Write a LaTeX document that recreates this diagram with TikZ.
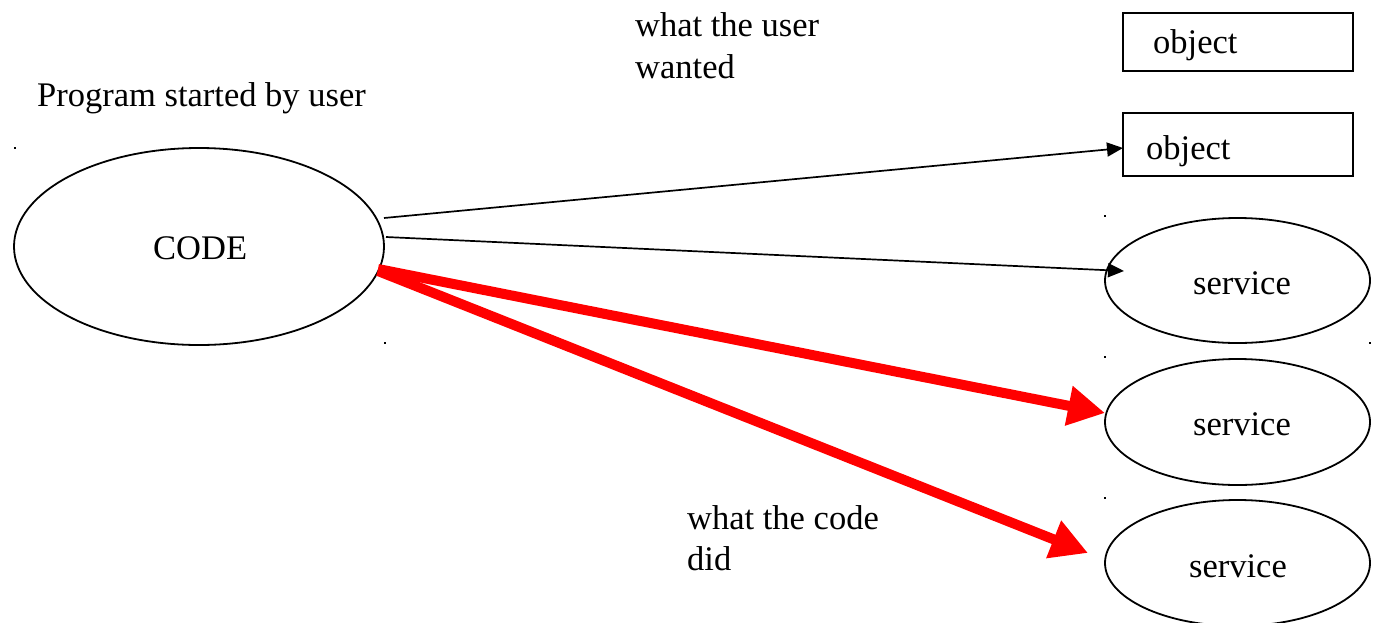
\documentclass[tikz,border=0pt]{standalone}
\usepackage{fontspec}
\setmainfont{Liberation Serif}
\usetikzlibrary{arrows.meta,shapes.geometric}
\begin{document}
\begin{tikzpicture}[x=1pt,y=-1pt,
  txt/.style={inner sep=0pt,anchor=base west,font=\fontsize{34.5}{42}\selectfont},
  oval/.style={draw,ellipse,line width=1.8pt,inner sep=0pt},
  objbox/.style={draw,line width=1.8pt,inner sep=0pt,minimum width=230pt},
  blackarrow/.style={draw,line width=1.7pt,-{Triangle[length=16pt,width=14pt]}},
  redarrow/.style={draw=red,line width=10pt,-{Triangle[length=37pt,width=38pt]}},
  dot/.style={fill=black,minimum width=2pt,minimum height=1.2pt,inner sep=0pt}]
\useasboundingbox (0,0) rectangle (1378,622);
% nodes
\node[oval,minimum width=370pt,minimum height=197pt] (code) at (199,246.5) {};
\node[txt] (codet) at (153,259) {CODE};
\node[objbox,minimum height=58pt] (obj1) at (1238,42) {};
\node[objbox,minimum height=63pt] (obj2) at (1238,144.5) {};
\node[txt] (obj1t) at (1153,53) {object};
\node[txt] (obj2t) at (1146,159) {object};
\node[oval,minimum width=265pt,minimum height=125pt] (srv1) at (1237.5,280.5) {};
\node[oval,minimum width=265pt,minimum height=126pt] (srv2) at (1237.5,422) {};
\node[oval,minimum width=265pt,minimum height=126pt] (srv3) at (1237.5,563) {};
\node[txt,anchor=base] (srv1t) at (1242,294) {service};
\node[txt,anchor=base] (srv2t) at (1242,435) {service};
\node[txt,anchor=base] (srv3t) at (1238,577) {service};
\node[txt] (prog) at (37,106) {Program started by user};
\node[txt] (want1) at (635,36) {what the user};
\node[txt] (want2) at (635,78) {wanted};
\node[txt] (did1) at (687,529) {what the code};
\node[txt] (did2) at (687,570) {did};
% tiny marks
\node[dot] (d1) at (15,148) {};
\node[dot] (d2) at (385,343) {};
\node[dot] (d3) at (1105,216) {};
\node[dot] (d4) at (1105,357) {};
\node[dot] (d5) at (1370,343) {};
\node[dot] (d6) at (1105,498) {};
% connector anchors
\coordinate (s1) at (384,218);
\coordinate (s2) at (386,237);
\coordinate (s3) at (378,269);
\coordinate (s4) at (378,271);
\coordinate (e1) at (1123,148);
\coordinate (e2) at (1124,271);
\coordinate (e3) at (1105,413);
\coordinate (e4) at (1088,553);
% connectors
\draw[redarrow] (s3) -- (e3);
\draw[redarrow] (s4) -- (e4);
\draw[blackarrow] (s1) -- (e1);
\draw[blackarrow] (s2) -- (e2);
\end{tikzpicture}
\end{document}
